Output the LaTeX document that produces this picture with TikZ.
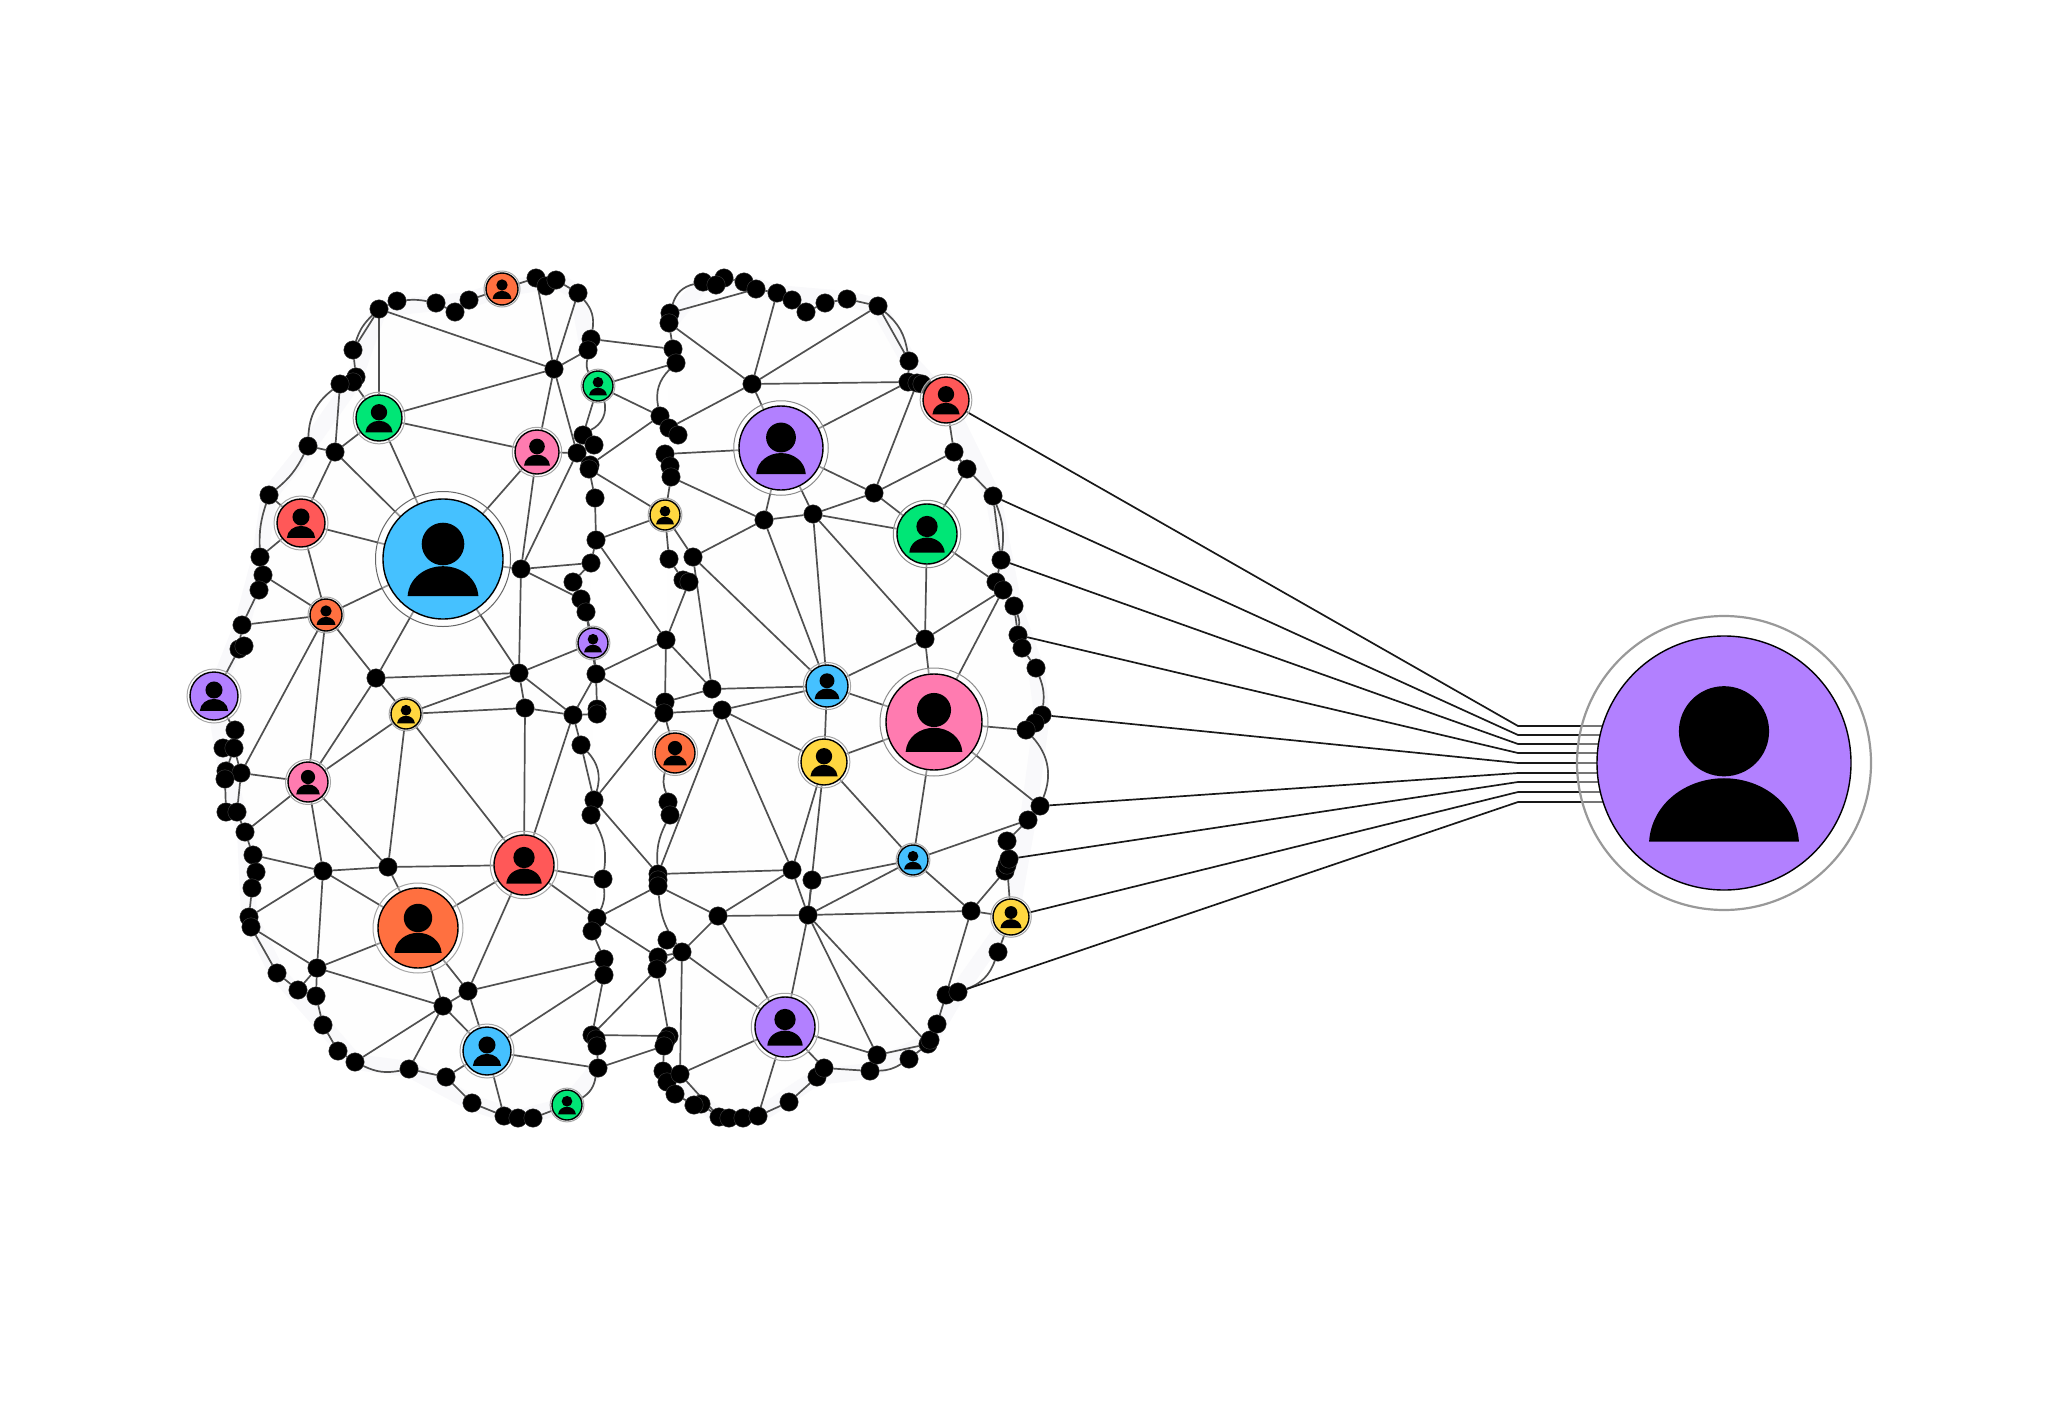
\documentclass[tikz,border=0pt]{standalone}
\usepackage{xcolor}
\usetikzlibrary{positioning}
\definecolor{cblue}{HTML}{45C1FF}
\definecolor{cgreen}{HTML}{00E676}
\definecolor{cpink}{HTML}{FF7BB0}
\definecolor{cred}{HTML}{FF5858}
\definecolor{corange}{HTML}{FF7040}
\definecolor{cyellow}{HTML}{FFD740}
\definecolor{cpurple}{HTML}{B280FF}
\definecolor{clink}{HTML}{505050}
\definecolor{chalo}{HTML}{F9F9FB}
\definecolor{clobe}{HTML}{FEFEFE}
\pgfdeclarelayer{edges}
\pgfsetlayers{edges,main}
\tikzset{
    dot/.style = {circle, fill = black, draw = black!75, line width = 0.4pt, inner sep = 0pt, minimum size = 18.5pt},
    disc/.style = {circle, draw = black, line width = 1.4pt, inner sep = 0pt},
    ring/.style = {circle, draw = black!35, line width = 1pt, fill = white, fill opacity = 0.4, inner sep = 0pt},
    link/.style = {draw = clink, line width = 1.7pt},
    wire/.style = {draw = black!90, line width = 1.7pt},
    lobe/.style = {draw = chalo, fill = clobe, line width = 16pt, line join = round, line cap = round}
}
% #1 stile anello, #2 nome, #3 #4 centro, #5 raggio, #6 colore
\newcommand{\person}[6][]{
    \node[ring, minimum size = {2.25*#5}, #1] (#2ring) at (#3,#4) {};
    \node[disc, fill = #6, minimum size = {2*#5}] (#2) at (#3,#4) {};
    \begin{scope}[shift = {(#3,#4)}, scale = #5]
        \fill[black] (0,-0.25) circle (0.355);
        \fill[black] (-0.59,0.62) .. controls (-0.57,0.32) and (-0.30,0.12) .. (0,0.12) .. controls (0.30,0.12) and (0.57,0.32) .. (0.59,0.62) -- cycle;
    \end{scope}
}
\begin{document}
\begin{tikzpicture}[x = 1pt, y = -1pt]
    \useasboundingbox (0,0) rectangle (2048,1405);
    % Punti neri
    \foreach \n/\x/\y in {
        t1/379/309, t2/397/301, t3/436/303, t4/455/312, t5/469/300, t6/536/278, t7/546/286, t8/556/280, t9/578/293, t10/591/339, t11/588/350,
        l1/353/350, l2/356/377, l3/353/382, l4/340/384, l5/308/446, l6/269/495, l7/260/557, l8/263/575, l9/259/590, l10/242/625, l11/239/649, l12/244/646,
        c1/583/435, c2/594/445, c3/577/453, c4/590/465, c5/589/469, c6/595/498, c7/596/540, c8/591/563, c9/573/582, c10/581/599, c11/586/612, c12/596/674,
        b1/235/730, b2/223/748, b3/234/748, b4/226/771, b5/241/773, b6/225/779, b7/226/812, b8/237/812, b9/245/832, b10/253/855, b11/256/872, b12/252/888, b13/249/917,
        b14/251/927, b15/277/973, b16/298/990, b17/316/996, b18/323/1025, b19/338/1051, b20/355/1062, b21/409/1069, b22/446/1077, b23/472/1103, b24/504/1116, b25/518/1118, b26/533/1118,
        m1/597/709, m2/597/714, m3/581/745, m4/594/800, m5/591/815, m6/603/879, m7/597/918, m8/592/931, m9/604/959, m10/604/975, m11/592/1035, m12/596/1039, m13/597/1046, m14/598/1068,
        r1/665/702, r2/664/713, r3/668/802, r4/670/815, r5/658/874, r6/658/880, r7/658/886, r8/667/940, r9/658/957, r10/657/969, r11/669/1036, r12/666/1040, r13/664/1046,
        r14/663/1071, r15/667/1082, r16/675/1094, r17/701/1104, r18/694/1105, r19/719/1117, r20/729/1118, r21/743/1118, r22/758/1116, r23/789/1102, r24/817/1077, r25/824/1068,
        r26/870/1071, r27/877/1055, r28/909/1059, r29/928/1044, r30/930/1040, r31/937/1024, r32/946/995, r33/958/992, r34/998/952, r35/1005/871, r36/1007/865, r37/1009/859,
        r38/1007/841, r39/1028/820, r40/1040/806, r41/1042/715, r42/1035/723, r43/1026/730,
        u1/703/282, u2/724/278, u3/716/285, u4/744/282, u5/756/289, u6/777/293, u7/792/300, u8/806/312, u9/825/303, u10/847/299, u11/878/306, u12/909/361, u13/908/382, u14/917/383, u15/922/384,
        v1/670/313, v2/669/323, v3/673/349, v4/676/363, v5/660/416, v6/669/428, v7/678/435, v8/665/454, v9/670/466, v10/671/477, v11/669/559, v12/683/580, v13/689/582,
        w1/954/452, w2/967/469, w3/993/496, w4/1001/560, w5/996/582, w6/1003/590, w7/1014/606, w8/1018/635, w9/1022/648, w10/1036/668,
        h1/554/369, h2/335/452, h3/521/569, h4/519/673, h5/376/678, h6/323/871, h7/388/867, h8/317/968, h9/443/1006, h10/468/991, h11/525/708, h12/573/715,
        h13/712/689, h14/722/710, h15/718/916, h16/808/915, h17/792/870, h18/812/880, h19/971/911, h20/682/952, h21/680/1074,
        h22/752/384, h23/764/520, h24/813/514, h25/874/493, h26/925/639, h27/693/557, h28/666/640}
        \node[dot] (\n) at (\x,\y) {};
    % Persone
    \person[draw = black!60]{blueA}{443}{559}{60}{cblue}
    \person{greenA}{379}{418}{23}{cgreen}
    \person{pinkA}{537}{452}{22}{cpink}
    \person{redA}{301}{523}{24}{cred}
    \person{orangeA}{326}{615}{16}{corange}
    \person{orangeT}{502}{289}{16}{corange}
    \person{greenS}{598}{386}{15}{cgreen}
    \person{purpleS}{593}{643}{15}{cpurple}
    \person{purpleL}{214}{696}{24}{cpurple}
    \person{yellowA}{406}{714}{15}{cyellow}
    \person{pinkB}{308}{782}{20}{cpink}
    \person{redB}{524}{865}{30}{cred}
    \person{orangeB}{418}{928}{40}{corange}
    \person{blueB}{487}{1051}{24}{cblue}
    \person{greenB}{567}{1105}{15}{cgreen}
    \person[draw = black!45]{purpleB}{781}{448}{42}{cpurple}
    \person{redC}{946}{400}{23}{cred}
    \person[draw = black!45]{greenC}{927}{534}{30}{cgreen}
    \person{yellowC}{665}{515}{15}{cyellow}
    \person{blueC}{827}{686}{21}{cblue}
    \person[draw = black!45]{pinkC}{934}{722}{48}{cpink}
    \person{orangeC}{675}{753}{20}{corange}
    \person{yellowD}{824}{762}{23}{cyellow}
    \person{blueD}{913}{860}{15}{cblue}
    \person{yellowE}{1011}{917}{18}{cyellow}
    \person{purpleC}{785}{1027}{30}{cpurple}
    % Persona grande
    \person[draw = black!40, line width = 2.2pt, minimum size = 294pt]{purpleX}{1724}{763}{127}{cpurple}
    \begin{pgfonlayer}{edges}
        % Sfondo dei lobi
        \draw[lobe] (m14.center) -- (greenB.center) -- (b25.center) -- (b23.center) -- (b21.center) -- (b20.center) -- (b18.center) -- (b15.center) -- (b13.center) -- (b9.center) -- (b4.center) -- (purpleL.center) -- (l10.center) -- (l7.center) -- (l6.center) -- (l5.center) -- (l3.center) -- (t1.center) -- (t3.center) -- (t5.center) -- (orangeT.center) -- (t8.center) -- (t9.center) -- (t11.center);
        \draw[lobe] (v2.center) -- (u1.center) -- (u4.center) -- (u6.center) -- (u10.center) -- (u11.center) -- (u12.center) -- (redC.center) -- (w3.center) -- (w7.center) -- (w10.center) -- (r41.center) -- (r39.center) -- (yellowE.center) -- (r33.center) -- (r30.center) -- (r26.center) -- (r24.center) -- (r22.center) -- (r19.center) -- (r14.center);
        % Lobo sinistro
        \foreach \a/\b in {
            t1/t2, t3/t4, t4/t5, t5/orangeT, orangeT/t6, t6/t7, t7/t8, t8/t9, t10/t11, t1/l1, l1/l2, l2/l3, l3/greenA, l4/h2, l5/h2, l6/redA, l7/redA, l7/l8, l8/l9, l9/l10, l8/orangeA, l10/orangeA, l10/l11, l11/l12, l11/purpleL,
            t1/greenA, t1/h1, greenA/h1, greenA/pinkA, greenA/h2, greenA/blueA, h2/redA, h2/blueA, redA/blueA, redA/orangeA, orangeA/blueA,
            t6/h1, t9/h1, h1/t11, h1/pinkA, h1/c3, pinkA/c3, pinkA/blueA, pinkA/h3, h3/c3, blueA/h3, h3/c8, h3/c10, blueA/h4, h3/h4, h4/h5, blueA/h5, orangeA/h5,
            orangeA/b5, orangeA/pinkB, h5/pinkB, h5/yellowA, h4/yellowA, yellowA/h11, yellowA/pinkB, yellowA/h7, yellowA/redB,
            h4/h11, h4/h12, h11/h12, h12/m2, h12/c12, c12/m1, m1/m2, c11/c12, purpleS/h4, purpleS/c12, c12/r2, h12/redB, h11/redB, h12/m3, m3/m4, m4/m5,
            m7/m8, m8/m9, m9/m10, m10/m11, m10/blueB, m9/h10, redB/m6, redB/m7, m4/r2, m4/r5, m7/r7, m7/r9, m11/r10, m11/r11, m14/r13, m14/blueB, m14/m13, m13/m12, m12/m11,
            greenB/b26, b26/b25, b25/b24, b24/b23, b24/blueB, b23/b22, b22/blueB, b22/b21, b21/h9, b20/h9, b20/b19, b19/b18, b18/b17, b17/h8, b16/h8, b16/b17, b16/b15, b15/b14, b14/h8, b13/b14, b13/h6, b13/b12, b12/b11, b11/b10, b10/h6, b10/b9, b9/pinkB, b5/pinkB, h6/pinkB, h7/pinkB,
            h6/h7, h6/orangeB, h6/h8, h7/redB, h7/orangeB, h8/orangeB, h8/h9, orangeB/h9, orangeB/h10, orangeB/redB, redB/h10, h9/h10, h9/blueB, h10/blueB,
            b1/purpleL, b1/b3, b2/b3, b3/b4, b4/b6, b3/b5, b5/b8, b6/b7, b7/b8, b8/b9,
            c1/greenS, c3/c1, c1/c2, c3/c4, c4/c5, c5/c6, c6/c7, c7/c8, c8/c9, c9/c10, c10/c11, c11/purpleS}
            \draw[link] (\a) -- (\b);
        % Lobo destro
        \foreach \a/\b in {
            t10/v3, greenS/v4, greenS/v5, c4/v5, c5/yellowC, c7/yellowC, c7/h28, h28/c12, h28/h13, h28/r1, h28/v13, h27/h13, h27/h23, h27/yellowC, yellowC/v11, v11/v12, v12/v13, h27/blueC, h23/blueC, h24/blueC, h24/h26, h24/h23, h24/greenC, h24/h25, h23/purpleB, h24/purpleB, h25/purpleB, h25/greenC, h25/w1, h25/u14,
            v10/h23, v10/yellowC, v8/purpleB, v8/v9, v9/v10, v5/v6, v6/v7, v3/v2, v4/v3, v2/v1, v2/h22, v1/u5, u1/u3, u3/u2, u2/u4, u4/u5, u5/u6, u6/u7, u7/u8, u8/u9, u9/u10, u10/u11, u6/h22, u11/h22, u11/u12, h22/u13, h22/v6, h22/purpleB, purpleB/u13, u12/u13, u13/u14, u14/u15,
            redC/w1, w1/w2, w2/greenC, w2/w3, w3/w4, w4/w5, w5/w6, w6/w7, w7/w8, w8/w9, w9/w10, w5/greenC, greenC/h26, h26/w6, h26/blueC, h26/pinkC, pinkC/w6,
            blueC/h13, blueC/h14, blueC/pinkC, blueC/yellowD, h13/r1, r1/r2, r2/h14, h14/yellowD, h14/h17, h14/r5, r2/orangeC, r3/r4, yellowD/pinkC, yellowD/h17, yellowD/h16, yellowD/blueD, pinkC/blueD, pinkC/r43, pinkC/r40, r41/r42, r42/r43, r40/r39, r39/blueD, r39/r38, r38/r37, r37/r36, r36/r35, r35/h19, r36/yellowE, yellowE/h19, yellowE/r34,
            h19/blueD, h19/h16, h19/r32, r32/r33, r32/r31, r31/r30, r30/r29, r29/h16, h16/r27, h16/purpleC, h16/h15, h16/h17, h16/h18, h16/blueD, h18/blueD, h17/h15, h17/r5, h15/r7, h15/h20, h15/purpleC, h20/purpleC, h20/r9, h20/r10, h20/h21, r10/r11, r5/r6, r6/r7, r8/h20, r9/r10,
            r11/r12, r12/r13, r13/r14, r14/r15, r15/r16, r16/r18, r18/r17, r17/r19, r14/h21, h21/r19, h21/purpleC, r19/r20, r20/r21, r21/r22, r22/r23, r23/r24, r24/r25, r22/purpleC, purpleC/r25, purpleC/r27, r25/r26, r27/r29, r28/r29}
            \draw[link] (\a) -- (\b);
        % Archi curvi
        \foreach \a/\b/\c in {
            t2/t3/8, t9/t10/25, t1/l1/-14, l4/l5/-25, l5/l6/12, l6/l7/-10, t11/greenS/-20, c1/greenS/-40, m3/m4/30, m5/m6/18, m6/m7/15, m14/greenB/25, b21/b20/18, v4/v5/-28, v1/u1/30, u11/u12/20, w3/w4/14, w7/w8/14, w10/r41/14, r43/r40/32, r34/r33/25, orangeC/r3/-20, r4/r5/-15, r7/h20/-15, r26/r28/-15}
            \draw[link] (\a) to[bend left = \c] (\b);
        % Fili verso la persona grande
        \foreach \n/\a/\y in {1/redC/726, 2/w3/735, 3/w4/744, 4/w8/753, 5/r41/763, 6/r40/773, 7/r37/782, 8/yellowE/792, 9/r33/802}{
            \coordinate (k\n) at (1518,\y);
            \draw[wire] (\a) -- (k\n) -- (k\n -| purpleX);
        }
    \end{pgfonlayer}
\end{tikzpicture}
\end{document}
